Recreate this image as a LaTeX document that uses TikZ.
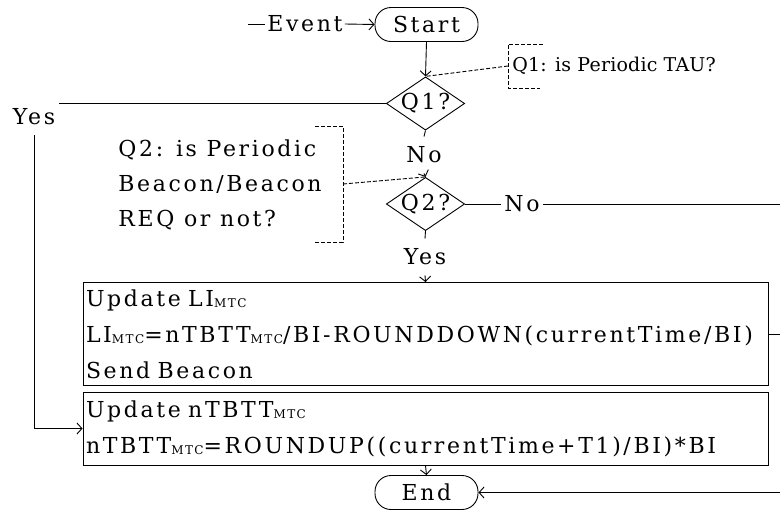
\documentclass[tikz,border=0pt]{standalone}
\usepackage{fontspec}
\setmainfont{DejaVu Serif}[LetterSpace=12]
\newfontfamily\notefont{DejaVu Serif}[LetterSpace=1]
\usetikzlibrary{shapes.geometric,arrows.meta}

% small lowered "MTC" index
\newcommand\mtcsub{\raisebox{-1.5pt}{\fontsize{12}{12}\selectfont MTC}}

\begin{document}
\begin{tikzpicture}[x=1pt,y=-1pt,
  font=\fontsize{22}{36}\selectfont,
  line width=0.9pt,
  >={Straight Barb[length=5pt,width=11pt]},
  pill/.style={draw, rounded corners=16pt, minimum width=103pt, minimum height=34pt, inner sep=0pt},
  decision/.style={draw, diamond, aspect=1.47, inner sep=0pt, minimum width=69pt, minimum height=47pt},
  tag/.style={inner xsep=3pt, inner ysep=0pt, minimum height=36pt},
  procbox/.style={draw, text width=679pt, minimum width=685pt, inner xsep=3pt, align=left},
  note/.style={dash pattern=on 4pt off 2pt},
]
\useasboundingbox (0,0) rectangle (780,528);

% start and the first decision
\coordinate (ev0) at (248,24);
\node[inner xsep=2pt, inner ysep=0pt] (event) at (305,24) {Event};
\node[pill] (start) at (426.5,24.5) {Start};
\node[decision] (q1) at (425.5,103.5) {Q1?};
\node[anchor=west, inner sep=0pt, font=\notefont\fontsize{19}{22}\selectfont] (q1note) at (512,66) {Q1: is Periodic TAU?};

% second decision
\node[tag] (no1) at (424,155) {No};
\node[decision] (q2) at (425.5,204) {Q2?};
\node[anchor=west, align=left, inner sep=0pt, font=\fontsize{22}{35}\selectfont] (q2note) at (118,185)
  {Q2: is Periodic\\Beacon/Beacon\\REQ or not?};
\node[tag] (no2) at (522,204) {No};
\node[tag] (yes2) at (425,257) {Yes};
\node[tag] (yes1) at (34,117) {Yes};

% processing steps
\node[procbox, minimum height=103pt] (box1) at (425.5,334)
  {Update LI\mtcsub\\LI\mtcsub=nTBTT\mtcsub/BI-ROUNDDOWN(currentTime/BI)\\Send Beacon};
\node[procbox, minimum height=73pt] (box2) at (425.5,428.5)
  {Update nTBTT\mtcsub\\nTBTT\mtcsub=ROUNDUP((currentTime+T1)/BI)*BI};
\node[pill] (end) at (426.5,492.5) {End};

% right-hand return path
\coordinate (r1) at (784,204);
\coordinate (r2) at (784,492.5);

% connectors
\draw (ev0) -- (event.west);
\draw[->] (event.east) -- (start.west);
\draw[->] (start.south) -- (q1.north);
\draw (q1.south) -- (no1.north);
\draw[->] (no1.south) -- (q2.north);
\draw (q2.south) -- (yes2.north);
\draw[->] (yes2.south) -- (box1.north);
\draw (q2.east) -- (no2.west);
\draw (no2.east) -- (r1) -- (r2);
\draw[->] (r2) -- (end.east);
\draw (box1.east) -- (box1.east -| r1);
\draw (q1.west) -- (q1.west -| yes1.east);
\draw[->] (yes1.south) |- (box2.west);
\draw[->] (box2.south) -- (end.north);

% dashed annotation brackets
\coordinate (n1) at (508,66);
\draw[note] (543,44) -- (508,44) -- (508,88) -- (540,88);
\draw[note] (n1) -- (q1.north);
\coordinate (n2) at (343,184);
\draw[note] (315,126) -- (343,126) -- (343,242) -- (315,242);
\draw[note] (n2) -- (q2.north);
\end{tikzpicture}
\end{document}
